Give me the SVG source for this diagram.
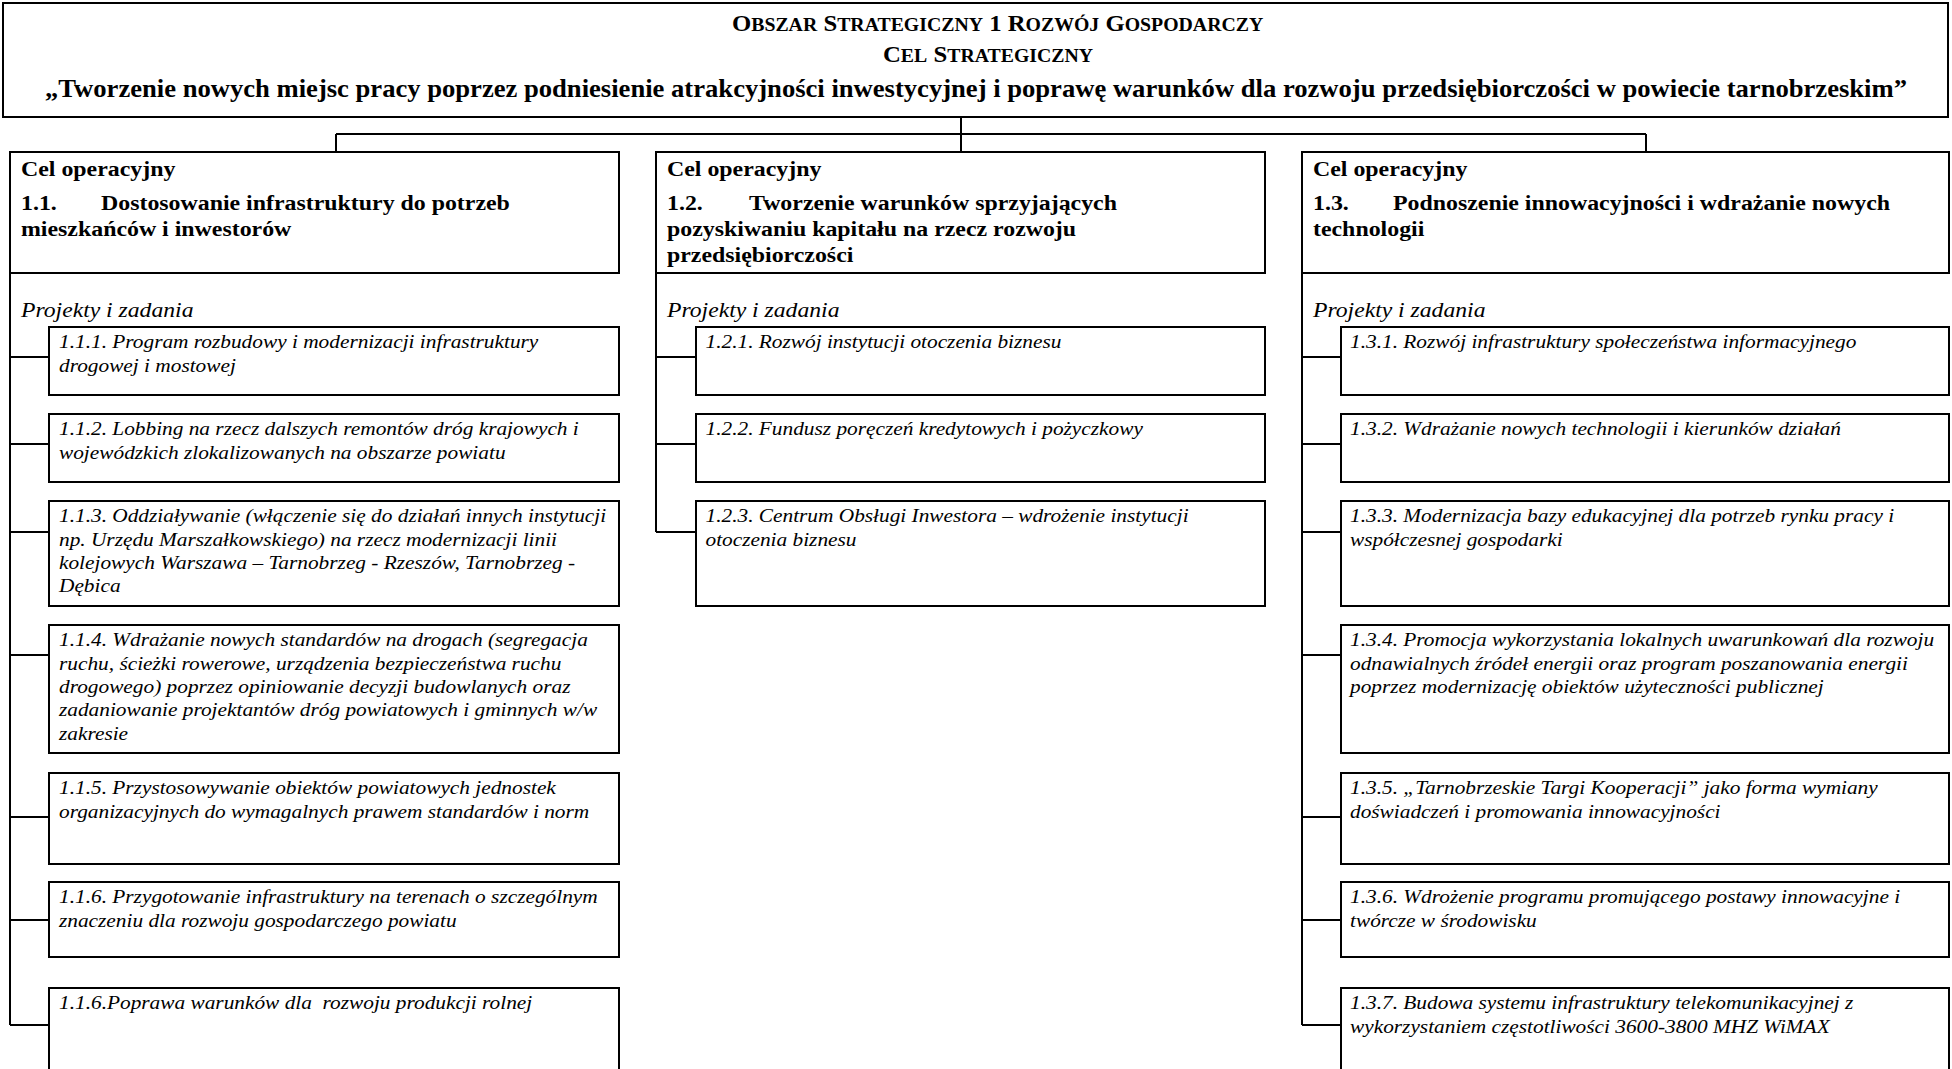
<svg xmlns="http://www.w3.org/2000/svg" width="1952" height="1069" viewBox="0 0 1952 1069">
<style>
.box{fill:#fff;stroke:#000;stroke-width:2}
.ln{fill:none;stroke:#000;stroke-width:2}
text{font-family:"Liberation Serif","Times New Roman",serif;fill:#000}
.hd{font-size:21.7px;font-weight:bold}
.pz{font-size:21.5px;font-style:italic}
.it{font-size:19.4px;font-style:italic}
.t3{font-size:24.2px;font-weight:bold}
.sc{font-size:22.5px;font-weight:bold}
.sm{font-size:18px}
</style>
<rect width="1952" height="1069" fill="#fff"/>

<g id="connectors">
<path class="ln" d="M961 117V134M336 134H1646M336 134V152M961 134V152M1646 134V152"/>
<path class="ln" d="M10 273V1025M10 357H49M10 444H49M10 532H49M10 655H49M10 817H49M10 920H49M10 1025H49"/>
<path class="ln" d="M656 273V532M656 357H696M656 444H696M656 532H696"/>
<path class="ln" d="M1302 273V1025M1302 357H1341M1302 444H1341M1302 532H1341M1302 655H1341M1302 817H1341M1302 920H1341M1302 1025H1341"/>
</g>

<g id="title">
<rect class="box" x="3" y="3" width="1945" height="114"/>
<g transform="scale(1.1 1)">
<text class="sc" x="665.45" y="31">O<tspan class="sm">BSZAR</tspan> S<tspan class="sm">TRATEGICZNY</tspan> 1 R<tspan class="sm">OZWÓJ</tspan> G<tspan class="sm">OSPODARCZY</tspan></text>
<text class="sc" x="802.73" y="62">C<tspan class="sm">EL</tspan> S<tspan class="sm">TRATEGICZNY</tspan></text>
<text class="t3" x="887.27" y="97" text-anchor="middle">„Tworzenie nowych miejsc pracy poprzez podniesienie atrakcyjności inwestycyjnej i poprawę warunków dla rozwoju przedsiębiorczości w powiecie tarnobrzeskim”</text>
</g>
</g>

<g id="cel-1-1">
<rect class="box" x="10" y="152" width="609" height="121"/>
<g transform="scale(1.1 1)">
<text class="hd"><tspan x="19.09" y="176">Cel operacyjny</tspan><tspan x="19.09" y="210">1.1.</tspan><tspan x="91.82" y="210">Dostosowanie infrastruktury do potrzeb</tspan><tspan x="19.09" y="236">mieszkańców i inwestorów</tspan></text>
<text class="pz" x="19.09" y="317">Projekty i zadania</text>
</g>
</g>

<g id="cel-1-2">
<rect class="box" x="656" y="152" width="609" height="121"/>
<g transform="scale(1.1 1)">
<text class="hd"><tspan x="606.36" y="176">Cel operacyjny</tspan><tspan x="606.36" y="210">1.2.</tspan><tspan x="680.91" y="210">Tworzenie warunków sprzyjających</tspan><tspan x="606.36" y="236">pozyskiwaniu kapitału na rzecz rozwoju</tspan><tspan x="606.36" y="262">przedsiębiorczości</tspan></text>
<text class="pz" x="606.36" y="317">Projekty i zadania</text>
</g>
</g>

<g id="cel-1-3">
<rect class="box" x="1302" y="152" width="647" height="121"/>
<g transform="scale(1.1 1)">
<text class="hd"><tspan x="1193.64" y="176">Cel operacyjny</tspan><tspan x="1193.64" y="210">1.3.</tspan><tspan x="1266.36" y="210">Podnoszenie innowacyjności i wdrażanie nowych</tspan><tspan x="1193.64" y="236">technologii</tspan></text>
<text class="pz" x="1193.64" y="317">Projekty i zadania</text>
</g>
</g>

<g id="z-1-1-1">
<rect class="box" x="49" y="327" width="570" height="68"/>
<text class="it" transform="scale(1.1 1)"><tspan x="53.64" y="348.5">1.1.1. Program rozbudowy i modernizacji infrastruktury</tspan><tspan x="53.64" y="371.8">drogowej i mostowej</tspan></text>
</g>
<g id="z-1-1-2">
<rect class="box" x="49" y="414" width="570" height="68"/>
<text class="it" transform="scale(1.1 1)"><tspan x="53.64" y="435.5">1.1.2. Lobbing na rzecz dalszych remontów dróg krajowych i</tspan><tspan x="53.64" y="458.8">wojewódzkich zlokalizowanych na obszarze powiatu</tspan></text>
</g>
<g id="z-1-1-3">
<rect class="box" x="49" y="501" width="570" height="105"/>
<text class="it" transform="scale(1.1 1)"><tspan x="53.64" y="522.5">1.1.3. Oddziaływanie (włączenie się do działań innych instytucji</tspan><tspan x="53.64" y="545.8">np. Urzędu Marszałkowskiego) na rzecz modernizacji linii</tspan><tspan x="53.64" y="569.1">kolejowych Warszawa – Tarnobrzeg - Rzeszów, Tarnobrzeg -</tspan><tspan x="53.64" y="592.4">Dębica</tspan></text>
</g>
<g id="z-1-1-4">
<rect class="box" x="49" y="625" width="570" height="128"/>
<text class="it" transform="scale(1.1 1)"><tspan x="53.64" y="646.5">1.1.4. Wdrażanie nowych standardów na drogach (segregacja</tspan><tspan x="53.64" y="669.8">ruchu, ścieżki rowerowe, urządzenia bezpieczeństwa ruchu</tspan><tspan x="53.64" y="693.1">drogowego) poprzez opiniowanie decyzji budowlanych oraz</tspan><tspan x="53.64" y="716.4">zadaniowanie projektantów dróg powiatowych i gminnych w/w</tspan><tspan x="53.64" y="739.7">zakresie</tspan></text>
</g>
<g id="z-1-1-5">
<rect class="box" x="49" y="773" width="570" height="91"/>
<text class="it" transform="scale(1.1 1)"><tspan x="53.64" y="794.5">1.1.5. Przystosowywanie obiektów powiatowych jednostek</tspan><tspan x="53.64" y="817.8">organizacyjnych do wymagalnych prawem standardów i norm</tspan></text>
</g>
<g id="z-1-1-6">
<rect class="box" x="49" y="882" width="570" height="75"/>
<text class="it" transform="scale(1.1 1)"><tspan x="53.64" y="903.5">1.1.6. Przygotowanie infrastruktury na terenach o szczególnym</tspan><tspan x="53.64" y="926.8">znaczeniu dla rozwoju gospodarczego powiatu</tspan></text>
</g>
<g id="z-1-1-7">
<rect class="box" x="49" y="988" width="570" height="100"/>
<text class="it" transform="scale(1.1 1)" x="53.64" y="1009.5" xml:space="preserve">1.1.6.Poprawa warunków dla  rozwoju produkcji rolnej</text>
</g>

<g id="z-1-2-1">
<rect class="box" x="696" y="327" width="569" height="68"/>
<text class="it" transform="scale(1.1 1)" x="641.36" y="348.5">1.2.1. Rozwój instytucji otoczenia biznesu</text>
</g>
<g id="z-1-2-2">
<rect class="box" x="696" y="414" width="569" height="68"/>
<text class="it" transform="scale(1.1 1)" x="641.36" y="435.5">1.2.2. Fundusz poręczeń kredytowych i pożyczkowy</text>
</g>
<g id="z-1-2-3">
<rect class="box" x="696" y="501" width="569" height="105"/>
<text class="it" transform="scale(1.1 1)"><tspan x="641.36" y="522.5">1.2.3. Centrum Obsługi Inwestora – wdrożenie instytucji</tspan><tspan x="641.36" y="545.8">otoczenia biznesu</tspan></text>
</g>

<g id="z-1-3-1">
<rect class="box" x="1341" y="327" width="608" height="68"/>
<text class="it" transform="scale(1.1 1)" x="1227.27" y="348.5">1.3.1. Rozwój infrastruktury społeczeństwa informacyjnego</text>
</g>
<g id="z-1-3-2">
<rect class="box" x="1341" y="414" width="608" height="68"/>
<text class="it" transform="scale(1.1 1)" x="1227.27" y="435.5">1.3.2. Wdrażanie nowych technologii i kierunków działań</text>
</g>
<g id="z-1-3-3">
<rect class="box" x="1341" y="501" width="608" height="105"/>
<text class="it" transform="scale(1.1 1)"><tspan x="1227.27" y="522.5">1.3.3. Modernizacja bazy edukacyjnej dla potrzeb rynku pracy i</tspan><tspan x="1227.27" y="545.8">współczesnej gospodarki</tspan></text>
</g>
<g id="z-1-3-4">
<rect class="box" x="1341" y="625" width="608" height="128"/>
<text class="it" transform="scale(1.1 1)"><tspan x="1227.27" y="646.5">1.3.4. Promocja wykorzystania lokalnych uwarunkowań dla rozwoju</tspan><tspan x="1227.27" y="669.8">odnawialnych źródeł energii oraz program poszanowania energii</tspan><tspan x="1227.27" y="693.1">poprzez modernizację obiektów użyteczności publicznej</tspan></text>
</g>
<g id="z-1-3-5">
<rect class="box" x="1341" y="773" width="608" height="91"/>
<text class="it" transform="scale(1.1 1)"><tspan x="1227.27" y="794.5">1.3.5. „Tarnobrzeskie Targi Kooperacji” jako forma wymiany</tspan><tspan x="1227.27" y="817.8">doświadczeń i promowania innowacyjności</tspan></text>
</g>
<g id="z-1-3-6">
<rect class="box" x="1341" y="882" width="608" height="75"/>
<text class="it" transform="scale(1.1 1)"><tspan x="1227.27" y="903.5">1.3.6. Wdrożenie programu promującego postawy innowacyjne i</tspan><tspan x="1227.27" y="926.8">twórcze w środowisku</tspan></text>
</g>
<g id="z-1-3-7">
<rect class="box" x="1341" y="988" width="608" height="100"/>
<text class="it" transform="scale(1.1 1)"><tspan x="1227.27" y="1009.5">1.3.7. Budowa systemu infrastruktury telekomunikacyjnej z</tspan><tspan x="1227.27" y="1032.8">wykorzystaniem częstotliwości 3600-3800 MHZ WiMAX</tspan></text>
</g>
</svg>
